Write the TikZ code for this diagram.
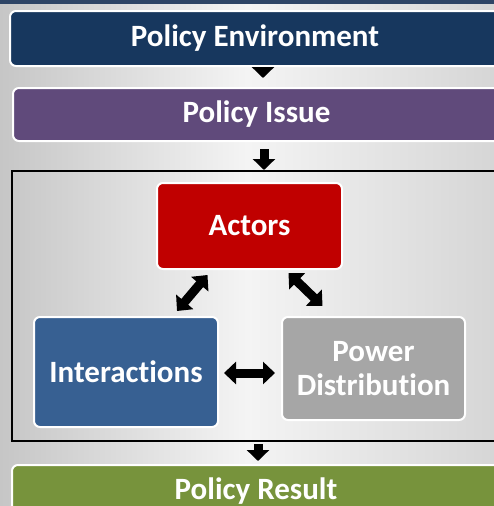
\documentclass[tikz,border=0pt]{standalone}
\usepackage{fontspec}
\setmainfont{Carlito}[Ligatures=NoCommon]
\usetikzlibrary{arrows.meta,calc}
\definecolor{envblue}{HTML}{17375E}
\definecolor{issuepurple}{HTML}{604A7B}
\definecolor{actorsred}{HTML}{C00000}
\definecolor{interblue}{HTML}{376092}
\definecolor{powergray}{HTML}{A6A6A6}
\definecolor{resultgreen}{HTML}{77933C}
\definecolor{bgleft}{HTML}{C6C6C6}
\definecolor{bgright}{HTML}{D6D6D6}
\definecolor{bgmid}{HTML}{F4F4F4}
\definecolor{topstrip}{HTML}{2E4566}
\begin{document}
\begin{tikzpicture}[x=1pt,y=-1pt,
  box/.style={draw=white, line width=2pt, rounded corners=6pt, text=white,
    font=\bfseries\fontsize{31}{34}\selectfont, align=center, inner sep=0pt},
  downarrow/.style={line width=9pt, -{Triangle[width=22pt,length=11pt]}},
  dblarrow/.style={line width=9pt, {Triangle[width=22pt,length=12pt]}-{Triangle[width=22pt,length=12pt]}}]
\useasboundingbox (0,0) rectangle (494,506);
\clip (0,0) rectangle (494,506);
\shade[left color=bgleft, right color=bgright, middle color=bgmid] (0,0) rectangle (494,506);
\fill[topstrip] (0,0) rectangle (494,4);
\node[box, fill=envblue, minimum width=490pt, minimum height=55pt] (env) at (255,38.5) {Policy Environment};
\node[box, fill=issuepurple, minimum width=487pt, minimum height=53pt] (issue) at (256.5,114.5) {Policy Issue};
\node[draw=black, line width=2pt, minimum width=498pt, minimum height=270pt, inner sep=0pt] (frame) at (261,306) {};
\node[box, fill=actorsred, minimum width=185pt, minimum height=86pt] (actors) at (249.5,226) {Actors};
\node[box, fill=interblue, minimum width=184pt, minimum height=110pt] (inter) at (126,372) {Interactions};
\node[box, fill=powergray, minimum width=183pt, minimum height=103pt] (power) at (373.5,368.5) {Power\\Distribution};
\node[box, fill=resultgreen, minimum width=488pt, minimum height=52pt] (result) at (256,491) {Policy Result};
\draw[downarrow, shorten <=1pt, shorten >=9pt] ([xshift=8pt]env.south) -- ([xshift=6.5pt]issue.north);
\draw[downarrow, shorten <=7pt] ([xshift=7.5pt]issue.south) -- ([xshift=7.5pt]issue.south |- frame.north);
\draw[downarrow, shorten <=2pt, shorten >=3pt] ([xshift=-3pt]frame.south) -- ([xshift=-3pt]result.north -| frame.south);
\draw[dblarrow] ([xshift=-42pt,yshift=-5pt]actors.south) -- ([xshift=51pt,yshift=5pt]inter.north);
\draw[dblarrow] ([xshift=39pt,yshift=-3pt]actors.south) -- ([xshift=-51pt,yshift=10pt]power.north);
\draw[dblarrow, shorten <=5pt, shorten >=6pt] ([yshift=-1pt]inter.east) -- ([yshift=-1pt]inter.east -| power.west);
\end{tikzpicture}
\end{document}
